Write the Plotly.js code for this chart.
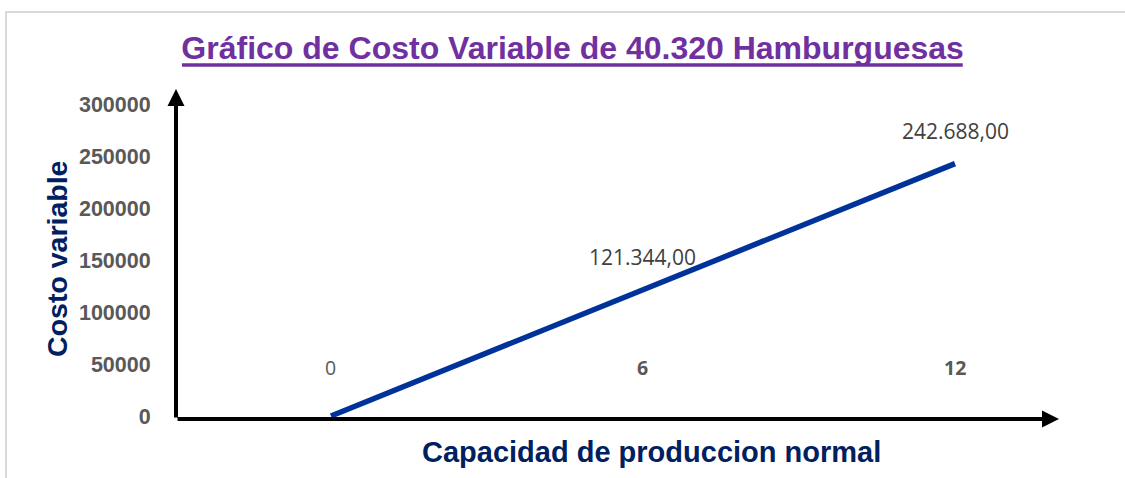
<!DOCTYPE html>
<html>
<head>
<meta charset="utf-8">
<script src="https://cdn.plot.ly/plotly-3.0.1.min.js"></script>
<style>
html,body{margin:0;padding:0;background:#fff;overflow:hidden;}
#frame{position:absolute;left:5px;top:11px;width:1300px;height:600px;border-top:2px solid #d9d9d9;border-left:2px solid #d9d9d9;}
#chart{position:absolute;left:0;top:0;width:1125px;height:478px;}
</style>
</head>
<body>
<div id="frame"></div>
<div id="chart"></div>
<script>
// Data
const periods = [0, 6, 12];
const costs = [0, 121344, 242688];
const costLabels = ["", "121.344,00", "242.688,00"];
const periodLabels = ["0", "6", "12"];
const periodBold = [false, true, true];
const yTicks = [0, 50000, 100000, 150000, 200000, 250000, 300000];

const X_MIN = -2.98, X_MAX = 14;
const Y_MIN = -2900, Y_MAX = 314400;

const trace = {
  x: periods,
  y: costs,
  type: 'scatter',
  mode: 'lines',
  line: {color: '#003399', width: 5.5},
  hoverinfo: 'skip'
};

const annotations = [];
// axes with arrows
annotations.push({x: X_MAX, y: Y_MIN, ax: X_MIN, ay: Y_MIN, xref: 'x', yref: 'y', axref: 'x', ayref: 'y',
  showarrow: true, arrowhead: 2, arrowsize: 0.85, arrowwidth: 4, arrowcolor: '#000', text: ''});
annotations.push({x: X_MIN, y: Y_MAX, ax: X_MIN, ay: Y_MIN, xref: 'x', yref: 'y', axref: 'x', ayref: 'y',
  showarrow: true, arrowhead: 2, arrowsize: 0.85, arrowwidth: 4, arrowcolor: '#000', text: ''});
// data labels
periods.forEach((p, i) => {
  if (costLabels[i]) {
    annotations.push({x: p, y: costs[i], xref: 'x', yref: 'y', text: costLabels[i], showarrow: false,
      yshift: 33, font: {family: 'Open Sans', size: 21, color: '#404040'}});
  }
  annotations.push({x: p, y: 0, xref: 'x', yref: 'paper', text: periodBold[i] ? '<b>' + periodLabels[i] + '</b>' : periodLabels[i],
    showarrow: false, yshift: 36, font: {family: 'Open Sans', size: 19.5, color: '#595959'}});
});
// axis titles
annotations.push({x: 0.539, y: 0, xref: 'paper', yref: 'paper', yanchor: 'middle', yshift: -33, showarrow: false,
  text: '<b>Capacidad de produccion normal</b>', font: {family: 'Liberation Sans', size: 29, color: '#002060'}});
annotations.push({x: 0, y: 0.485, xref: 'paper', yref: 'paper', xanchor: 'center', xshift: -119, showarrow: false, textangle: -90,
  text: '<b>Costo variable</b>', font: {family: 'Liberation Sans', size: 28.5, color: '#002060'}});

const layout = {
  width: 1125, height: 478,
  margin: {l: 176, r: 66, t: 89, b: 59, pad: 0},
  paper_bgcolor: 'rgba(0,0,0,0)',
  plot_bgcolor: 'rgba(0,0,0,0)',
  showlegend: false,
  title: {text: '<b>Gráfico de Costo Variable de 40.320 Hamburguesas</b>', x: 0.509, xanchor: 'center', y: 0.9, yanchor: 'middle', yref: 'container',
    font: {family: 'Liberation Sans', size: 32, color: '#7030A0'}},
  shapes: [
    // title underline
    {type: 'line', xref: 'paper', yref: 'paper', x0: 0.0068, x1: 0.891, y0: 1.0727, y1: 1.0727,
      line: {color: '#7030A0', width: 3.5}}
  ],
  xaxis: {range: [X_MIN, X_MAX], showgrid: false, zeroline: false, showline: false, showticklabels: false, ticks: '', fixedrange: true},
  yaxis: {range: [Y_MIN, Y_MAX], tickvals: yTicks, ticktext: yTicks.map(String), showgrid: false, zeroline: false, showline: false,
    ticks: 'outside', ticklen: 20, tickcolor: 'rgba(0,0,0,0)', tickfont: {family: 'Liberation Sans', size: 21.5, color: '#595959', weight: 'bold'}, fixedrange: true},
  annotations: annotations
};

Plotly.newPlot('chart', [trace], layout, {staticPlot: true, displayModeBar: false});
</script>
</body>
</html>
